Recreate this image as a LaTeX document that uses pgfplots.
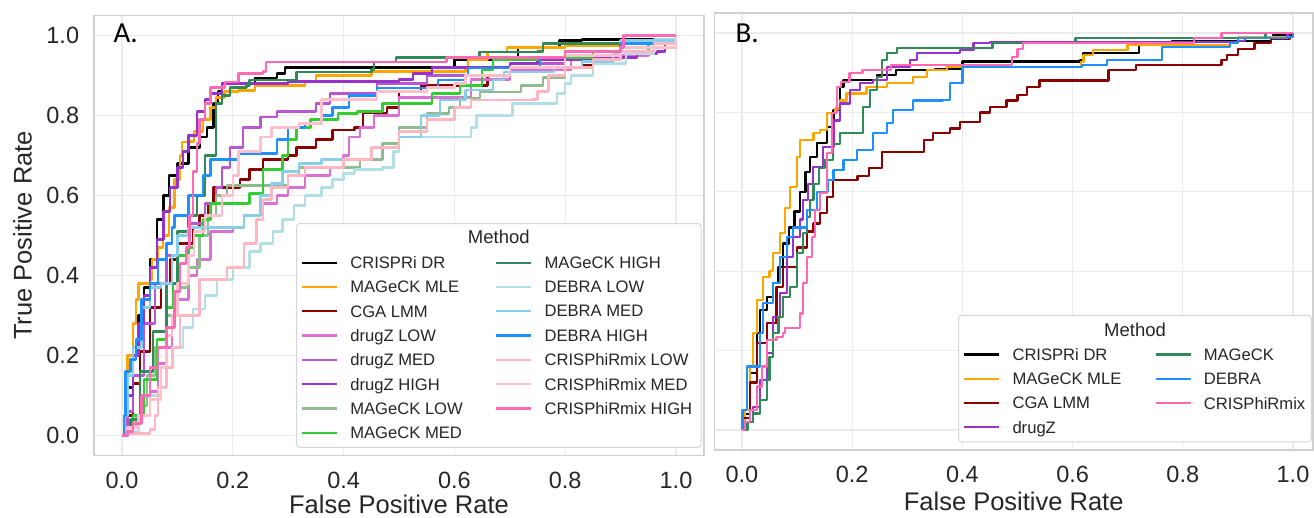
\documentclass[border=0pt]{standalone}
\usepackage{fontspec}
\setmainfont{Liberation Sans}
\newfontfamily\calib{Carlito}
\usepackage{pgfplots}
\pgfplotsset{compat=1.18}
\definecolor{tickc}{HTML}{262626}
\definecolor{gridc}{HTML}{EBEBEB}
\definecolor{framec}{HTML}{D0D0D0}
\definecolor{legc}{HTML}{D6D6D6}
\definecolor{cDR}{HTML}{000000}
\definecolor{cMLE}{HTML}{FFA500}
\definecolor{cCGA}{HTML}{8B0000}
\definecolor{cDZL}{HTML}{DA70D6}
\definecolor{cDZM}{HTML}{BA55D3}
\definecolor{cDZH}{HTML}{9932CC}
\definecolor{cMGL}{HTML}{8FBC8F}
\definecolor{cMGM}{HTML}{32CD32}
\definecolor{cMGH}{HTML}{2E8B57}
\definecolor{cDBL}{HTML}{B0E0E6}
\definecolor{cDBM}{HTML}{87CEEB}
\definecolor{cDBH}{HTML}{1E90FF}
\definecolor{cCXL}{HTML}{FFB6C1}
\definecolor{cCXM}{HTML}{FFC0CB}
\definecolor{cCXH}{HTML}{FF69B4}
\pgfplotsset{
  rocax/.style={
    scale only axis, anchor=south west,
    xmin=-0.05, ymin=-0.05, ymax=1.05,
    xtick={0,0.2,0.4,0.6,0.8,1}, ytick={0,0.2,0.4,0.6,0.8,1},
    grid=major, major grid style={draw=gridc, line width=1.3pt},
    axis line style={draw=framec, line width=1.8pt},
    major tick length=0pt, tick style={draw=none},
    /pgf/number format/assume math mode=true,
    tick label style={font=\fontsize{23.5}{28}\selectfont, text=tickc,
      /pgf/number format/fixed, /pgf/number format/fixed zerofill,
      /pgf/number format/precision=1},
    xticklabel style={anchor=north, inner sep=0pt, yshift=-16pt},
    yticklabel style={anchor=east, inner sep=0pt, xshift=-15pt},
    label style={font=\fontsize{25.5}{30}\selectfont, text=tickc},
    legend cell align=left, legend columns=2,
    legend image code/.code={\draw[##1, line width=2.2pt] (0pt,0pt) -- (35pt,0pt); \path (47pt,0pt);},
    every axis plot/.append style={const plot, line width=2.4pt, line join=round, no markers},
  },
  legsty/.style={
    draw=legc, line width=1pt, rounded corners=3pt, fill=white,
    inner xsep=4.5pt, inner ysep=2.5pt, column sep=0pt, row sep=0pt,
    font=\fontsize{16.6}{19}\selectfont, text=tickc,
    nodes={inner sep=0pt, minimum height=24.3pt, text depth=0pt, text=tickc},
    label={[anchor=center, yshift=-#1, font=\fontsize{18.5}{22}\selectfont, text=tickc, minimum height=0pt]north:Method},
  },
}
\begin{document}
\begin{tikzpicture}
\useasboundingbox (0,0) rectangle (1314pt,518pt);
% ---------------- Panel A ----------------
\begin{axis}[rocax, at={(94.3pt,62.5pt)}, width=609.4pt, height=440pt, xmax=1.05,
  xlabel={False Positive Rate}, ylabel={True Positive Rate},
  xlabel style={at={(axis description cs:0.5,-0.1318)}, anchor=base},
  ylabel style={at={(axis description cs:-0.1027,0.5)}, anchor=base},
  legend style={legsty=14pt, at={(axis description cs:0.331,0.528)}, anchor=north west}]
\addplot[cDR, forget plot] coordinates {(0,0)(0.005,0.05)(0.01,0.12)(0.02,0.22)(0.03,0.3)(0.04,0.37)(0.05,0.44)(0.063,0.54)(0.075,0.6)(0.085,0.65)(0.1,0.68)(0.12,0.72)(0.141,0.746)(0.153,0.77)(0.165,0.83)(0.173,0.86)(0.18,0.88)(0.237,0.88)(0.24,0.893)(0.276,0.893)(0.28,0.905)(0.294,0.92)(0.59,0.92)(0.6,0.94)(0.71,0.945)(0.715,0.968)(0.785,0.968)(0.79,0.987)(0.83,0.99)(1,1)};
\addplot[cMLE, forget plot] coordinates {(0,0)(0.005,0.1)(0.01,0.2)(0.02,0.28)(0.025,0.34)(0.03,0.38)(0.05,0.39)(0.054,0.44)(0.065,0.47)(0.074,0.5)(0.085,0.57)(0.095,0.64)(0.105,0.7)(0.108,0.733)(0.123,0.735)(0.13,0.76)(0.146,0.79)(0.16,0.82)(0.17,0.845)(0.185,0.86)(0.21,0.862)(0.24,0.875)(0.33,0.885)(0.35,0.9)(0.45,0.91)(0.62,0.918)(0.625,0.94)(0.66,0.958)(0.695,0.97)(0.8,0.975)(0.9,0.985)(0.98,0.99)(1,1)};
\addplot[cCGA, forget plot] coordinates {(0,0)(0.01,0.05)(0.02,0.13)(0.032,0.21)(0.05,0.32)(0.07,0.38)(0.087,0.44)(0.1,0.48)(0.128,0.52)(0.14,0.55)(0.155,0.58)(0.165,0.62)(0.19,0.62)(0.213,0.64)(0.23,0.665)(0.255,0.69)(0.3,0.7)(0.315,0.72)(0.35,0.74)(0.38,0.763)(0.42,0.77)(0.435,0.806)(0.478,0.82)(0.5,0.858)(0.54,0.875)(0.66,0.9)(0.7,0.915)(0.78,0.92)(0.83,0.925)(0.85,0.94)(0.9,0.96)(0.95,0.98)(1,1)};
\addplot[cDZL, forget plot] coordinates {(0,0)(0.01,0.02)(0.03,0.05)(0.05,0.11)(0.065,0.18)(0.08,0.22)(0.09,0.3)(0.1,0.34)(0.12,0.4)(0.135,0.44)(0.16,0.51)(0.2,0.52)(0.22,0.55)(0.25,0.58)(0.28,0.6)(0.3,0.62)(0.33,0.65)(0.375,0.67)(0.4,0.7)(0.41,0.746)(0.43,0.77)(0.455,0.8)(0.5,0.845)(0.59,0.845)(0.63,0.89)(0.7,0.913)(0.81,0.94)(0.9,0.95)(0.95,0.97)(1,1)};
\addplot[cDZM, forget plot] coordinates {(0,0)(0.01,0.06)(0.02,0.15)(0.04,0.28)(0.06,0.38)(0.08,0.45)(0.1,0.5)(0.12,0.53)(0.15,0.58)(0.17,0.62)(0.18,0.67)(0.195,0.72)(0.218,0.77)(0.25,0.796)(0.28,0.81)(0.35,0.83)(0.375,0.855)(0.46,0.88)(0.55,0.9)(0.7,0.93)(0.8,0.96)(0.9,0.97)(1,1)};
\addplot[cDZH, forget plot] coordinates {(0,0)(0.005,0.05)(0.01,0.1)(0.02,0.2)(0.03,0.28)(0.04,0.35)(0.05,0.42)(0.063,0.49)(0.075,0.56)(0.087,0.62)(0.1,0.67)(0.11,0.71)(0.12,0.75)(0.135,0.81)(0.15,0.84)(0.16,0.855)(0.18,0.88)(0.3,0.885)(0.5,0.89)(0.525,0.905)(0.56,0.92)(0.7,0.93)(0.75,0.94)(0.85,0.945)(0.93,0.955)(0.966,0.96)(0.98,0.98)(1,1)};
\addplot[cMGL, forget plot] coordinates {(0,0)(0.01,0.02)(0.025,0.05)(0.032,0.075)(0.045,0.15)(0.06,0.22)(0.08,0.3)(0.1,0.37)(0.12,0.42)(0.14,0.5)(0.155,0.55)(0.17,0.6)(0.19,0.625)(0.28,0.625)(0.3,0.65)(0.32,0.67)(0.4,0.67)(0.43,0.69)(0.47,0.73)(0.5,0.77)(0.55,0.805)(0.59,0.82)(0.61,0.843)(0.646,0.858)(0.72,0.875)(0.76,0.895)(0.8,0.918)(0.85,0.94)(0.9,0.96)(0.95,0.98)(1,1)};
\addplot[cMGM, forget plot] coordinates {(0,0)(0.01,0.02)(0.02,0.05)(0.04,0.14)(0.063,0.24)(0.08,0.32)(0.092,0.38)(0.1,0.45)(0.12,0.47)(0.13,0.5)(0.146,0.54)(0.16,0.58)(0.21,0.58)(0.23,0.605)(0.255,0.665)(0.29,0.7)(0.3,0.74)(0.315,0.77)(0.34,0.79)(0.39,0.805)(0.425,0.81)(0.47,0.83)(0.556,0.83)(0.56,0.855)(0.61,0.875)(0.65,0.913)(0.67,0.938)(0.75,0.945)(0.85,0.96)(0.95,0.98)(1,1)};
\addplot[cMGH, forget plot] coordinates {(0,0)(0.01,0.02)(0.015,0.04)(0.032,0.16)(0.056,0.26)(0.08,0.38)(0.1,0.51)(0.12,0.55)(0.135,0.6)(0.15,0.7)(0.17,0.83)(0.18,0.85)(0.195,0.87)(0.225,0.875)(0.23,0.888)(0.31,0.888)(0.315,0.908)(0.45,0.915)(0.455,0.933)(0.49,0.933)(0.495,0.945)(0.64,0.945)(0.645,0.958)(0.75,0.96)(0.76,0.98)(0.9,0.985)(1,1)};
\addplot[cDBL, forget plot] coordinates {(0,0)(0.01,0.01)(0.03,0.05)(0.05,0.1)(0.07,0.17)(0.09,0.22)(0.11,0.27)(0.128,0.316)(0.15,0.35)(0.171,0.39)(0.2,0.42)(0.23,0.46)(0.25,0.48)(0.273,0.51)(0.29,0.54)(0.31,0.575)(0.33,0.6)(0.36,0.62)(0.38,0.64)(0.4,0.655)(0.42,0.665)(0.47,0.67)(0.49,0.71)(0.5,0.746)(0.62,0.746)(0.63,0.77)(0.64,0.8)(0.705,0.83)(0.785,0.855)(0.8,0.88)(0.81,0.9)(0.85,0.93)(0.91,0.955)(0.96,0.99)(1,1)};
\addplot[cDBM, forget plot] coordinates {(0,0)(0.005,0.05)(0.01,0.15)(0.02,0.22)(0.035,0.32)(0.05,0.37)(0.07,0.38)(0.09,0.45)(0.1,0.5)(0.12,0.52)(0.2,0.52)(0.22,0.55)(0.25,0.6)(0.27,0.63)(0.29,0.66)(0.32,0.68)(0.36,0.69)(0.42,0.69)(0.45,0.72)(0.5,0.746)(0.54,0.8)(0.574,0.838)(0.62,0.863)(0.67,0.888)(0.69,0.908)(0.78,0.92)(0.83,0.935)(0.886,0.955)(0.9,0.987)(1,1)};
\addplot[cDBH, forget plot] coordinates {(0,0)(0.004,0.05)(0.006,0.16)(0.015,0.19)(0.025,0.24)(0.035,0.34)(0.05,0.38)(0.065,0.44)(0.08,0.48)(0.09,0.52)(0.095,0.55)(0.11,0.55)(0.12,0.6)(0.146,0.65)(0.16,0.69)(0.2,0.69)(0.21,0.705)(0.27,0.705)(0.28,0.74)(0.3,0.77)(0.33,0.78)(0.36,0.8)(0.38,0.82)(0.41,0.85)(0.46,0.868)(0.56,0.868)(0.57,0.888)(0.62,0.9)(0.625,0.918)(0.75,0.92)(0.755,0.945)(0.8,0.96)(0.9,0.98)(1,1)};
\addplot[cCXL, forget plot] coordinates {(0,0)(0.01,0.005)(0.05,0.015)(0.06,0.05)(0.065,0.12)(0.08,0.17)(0.092,0.22)(0.105,0.3)(0.14,0.39)(0.19,0.42)(0.22,0.48)(0.243,0.54)(0.255,0.59)(0.27,0.62)(0.3,0.65)(0.33,0.67)(0.4,0.69)(0.45,0.72)(0.5,0.76)(0.55,0.79)(0.6,0.82)(0.63,0.838)(0.74,0.84)(0.75,0.86)(0.77,0.9)(0.8,0.92)(0.85,0.94)(0.9,0.96)(0.96,0.98)(1,1)};
\addplot[cCXM, forget plot] coordinates {(0,0)(0.01,0.02)(0.03,0.05)(0.05,0.09)(0.07,0.17)(0.08,0.25)(0.09,0.3)(0.1,0.38)(0.12,0.45)(0.13,0.51)(0.15,0.55)(0.18,0.6)(0.2,0.65)(0.21,0.71)(0.25,0.746)(0.27,0.77)(0.32,0.78)(0.36,0.84)(0.46,0.86)(0.55,0.87)(0.6,0.88)(0.62,0.9)(0.7,0.92)(0.8,0.95)(0.9,0.97)(1,1)};
\addplot[cCXH, forget plot] coordinates {(0,0)(0.01,0.01)(0.02,0.03)(0.035,0.1)(0.05,0.17)(0.065,0.22)(0.08,0.27)(0.095,0.36)(0.105,0.43)(0.115,0.47)(0.122,0.55)(0.128,0.66)(0.135,0.73)(0.14,0.79)(0.15,0.83)(0.16,0.87)(0.186,0.883)(0.21,0.905)(0.254,0.91)(0.26,0.933)(0.58,0.933)(0.586,0.945)(0.785,0.945)(0.8,0.96)(0.9,0.97)(0.905,1.0)(1,1)};
% legend (row-major order, matplotlib column-wise layout)
\addlegendimage{empty legend}\addlegendentry{}
\addlegendimage{empty legend}\addlegendentry{}
\addlegendimage{cDR}\addlegendentry{\makebox[145pt][l]{CRISPRi DR}}
\addlegendimage{cMGH}\addlegendentry{\makebox[152pt][l]{MAGeCK HIGH}}
\addlegendimage{cMLE}\addlegendentry{\makebox[145pt][l]{MAGeCK MLE}}
\addlegendimage{cDBL}\addlegendentry{\makebox[152pt][l]{DEBRA LOW}}
\addlegendimage{cCGA}\addlegendentry{\makebox[145pt][l]{CGA LMM}}
\addlegendimage{cDBM}\addlegendentry{\makebox[152pt][l]{DEBRA MED}}
\addlegendimage{cDZL}\addlegendentry{\makebox[145pt][l]{drugZ LOW}}
\addlegendimage{cDBH}\addlegendentry{\makebox[152pt][l]{DEBRA HIGH}}
\addlegendimage{cDZM}\addlegendentry{\makebox[145pt][l]{drugZ MED}}
\addlegendimage{cCXL}\addlegendentry{\makebox[152pt][l]{CRISPhiRmix LOW}}
\addlegendimage{cDZH}\addlegendentry{\makebox[145pt][l]{drugZ HIGH}}
\addlegendimage{cCXM}\addlegendentry{\makebox[152pt][l]{CRISPhiRmix MED}}
\addlegendimage{cMGL}\addlegendentry{\makebox[145pt][l]{MAGeCK LOW}}
\addlegendimage{cCXH}\addlegendentry{\makebox[152pt][l]{CRISPhiRmix HIGH}}
\addlegendimage{cMGM}\addlegendentry{\makebox[145pt][l]{MAGeCK MED}}
\addlegendimage{empty legend}\addlegendentry{}
\end{axis}
% ---------------- Panel B ----------------
\begin{axis}[rocax, at={(714.4pt,68.1pt)}, width=598.6pt, height=436.7pt, xmax=1.0363,
  yticklabels={},
  xlabel={False Positive Rate},
  xlabel style={at={(axis description cs:0.5,-0.138)}, anchor=base},
  legend style={legsty=15pt, at={(axis description cs:0.998,0.309)}, anchor=north east}]
\addplot[cDR, forget plot] coordinates {(0,0)(0.005,0.04)(0.015,0.143)(0.027,0.244)(0.033,0.302)(0.045,0.335)(0.056,0.37)(0.066,0.41)(0.075,0.47)(0.085,0.51)(0.095,0.55)(0.105,0.6)(0.115,0.65)(0.123,0.688)(0.136,0.723)(0.154,0.763)(0.166,0.806)(0.178,0.864)(0.184,0.882)(0.238,0.882)(0.245,0.894)(0.274,0.894)(0.28,0.907)(0.35,0.91)(0.4,0.928)(0.613,0.932)(0.62,0.95)(0.717,0.95)(0.72,0.97)(0.78,0.98)(0.96,0.985)(0.964,0.995)(1,1)};
\addplot[cMLE, forget plot] coordinates {(0,0)(0.005,0.05)(0.015,0.16)(0.02,0.244)(0.027,0.327)(0.038,0.385)(0.05,0.4)(0.056,0.446)(0.069,0.496)(0.078,0.56)(0.087,0.612)(0.1,0.688)(0.105,0.73)(0.123,0.73)(0.13,0.748)(0.142,0.756)(0.154,0.798)(0.17,0.81)(0.178,0.83)(0.19,0.848)(0.226,0.864)(0.263,0.874)(0.31,0.89)(0.336,0.907)(0.372,0.915)(0.61,0.915)(0.615,0.927)(0.62,0.945)(0.637,0.957)(0.695,0.957)(0.7,0.97)(0.886,0.975)(0.9,0.99)(1,1)};
\addplot[cCGA, forget plot] coordinates {(0,0)(0.002,0.03)(0.015,0.12)(0.027,0.22)(0.045,0.27)(0.063,0.36)(0.075,0.41)(0.1,0.46)(0.118,0.5)(0.13,0.52)(0.142,0.547)(0.154,0.587)(0.165,0.63)(0.2,0.63)(0.21,0.64)(0.23,0.66)(0.254,0.7)(0.31,0.7)(0.33,0.73)(0.347,0.748)(0.378,0.76)(0.396,0.776)(0.432,0.8)(0.45,0.814)(0.48,0.83)(0.5,0.844)(0.517,0.864)(0.54,0.88)(0.659,0.88)(0.665,0.907)(0.71,0.907)(0.715,0.92)(0.858,0.92)(0.87,0.932)(0.88,0.945)(0.9,0.96)(0.93,0.975)(0.96,0.985)(0.995,1.0)(1,1)};
\addplot[cDZH, forget plot] coordinates {(0,0)(0.005,0.02)(0.02,0.058)(0.033,0.126)(0.045,0.194)(0.056,0.285)(0.069,0.345)(0.082,0.436)(0.093,0.486)(0.105,0.53)(0.111,0.58)(0.12,0.62)(0.129,0.663)(0.147,0.713)(0.166,0.78)(0.178,0.823)(0.196,0.856)(0.214,0.874)(0.238,0.882)(0.263,0.915)(0.305,0.932)(0.318,0.95)(0.396,0.957)(0.42,0.975)(0.45,0.978)(0.9,0.98)(0.913,0.987)(0.99,1.0)(1,1)};
\addplot[cMGH, forget plot] coordinates {(0,0)(0.01,0.02)(0.02,0.042)(0.033,0.075)(0.045,0.126)(0.05,0.184)(0.056,0.244)(0.066,0.285)(0.075,0.335)(0.087,0.36)(0.1,0.446)(0.111,0.496)(0.118,0.537)(0.123,0.58)(0.13,0.62)(0.14,0.66)(0.15,0.68)(0.165,0.72)(0.178,0.748)(0.214,0.748)(0.22,0.814)(0.232,0.856)(0.245,0.89)(0.254,0.932)(0.263,0.95)(0.281,0.962)(0.45,0.962)(0.455,0.975)(0.6,0.975)(0.605,0.987)(0.944,0.987)(0.95,1.0)(1,1)};
\addplot[cDBH, forget plot] coordinates {(0,0)(0.001,0.05)(0.009,0.16)(0.02,0.16)(0.033,0.244)(0.038,0.32)(0.056,0.37)(0.069,0.436)(0.082,0.486)(0.093,0.51)(0.118,0.554)(0.136,0.6)(0.155,0.63)(0.166,0.655)(0.184,0.68)(0.209,0.705)(0.238,0.748)(0.263,0.773)(0.274,0.806)(0.31,0.83)(0.365,0.832)(0.378,0.874)(0.4,0.915)(0.617,0.92)(0.662,0.932)(0.759,0.932)(0.762,0.965)(0.886,0.975)(0.9,0.987)(0.99,0.99)(1,1)};
\addplot[cCXH, forget plot] coordinates {(0,0)(0.005,0.02)(0.015,0.05)(0.027,0.11)(0.036,0.16)(0.045,0.227)(0.063,0.235)(0.075,0.245)(0.078,0.257)(0.1,0.257)(0.105,0.294)(0.111,0.37)(0.118,0.436)(0.127,0.486)(0.133,0.554)(0.142,0.597)(0.154,0.698)(0.163,0.798)(0.172,0.864)(0.18,0.877)(0.195,0.9)(0.219,0.907)(0.268,0.907)(0.27,0.92)(0.48,0.92)(0.49,0.94)(0.5,0.96)(0.51,0.975)(0.813,0.975)(0.82,0.987)(0.868,0.987)(0.87,1.0)(1,1)};
\addlegendimage{empty legend}\addlegendentry{}
\addlegendimage{empty legend}\addlegendentry{}
\addlegendimage{cDR}\addlegendentry{\makebox[142pt][l]{CRISPRi DR}}
\addlegendimage{cMGH}\addlegendentry{\makebox[103pt][l]{MAGeCK}}
\addlegendimage{cMLE}\addlegendentry{\makebox[142pt][l]{MAGeCK MLE}}
\addlegendimage{cDBH}\addlegendentry{\makebox[103pt][l]{DEBRA}}
\addlegendimage{cCGA}\addlegendentry{\makebox[142pt][l]{CGA LMM}}
\addlegendimage{cCXH}\addlegendentry{\makebox[103pt][l]{CRISPhiRmix}}
\addlegendimage{cDZH}\addlegendentry{\makebox[142pt][l]{drugZ}}
\addlegendimage{empty legend}\addlegendentry{}
\end{axis}
\node[anchor=base west, font=\calib\fontsize{29}{34}\selectfont] at (110pt,475pt) {A.};
\node[anchor=base west, font=\calib\fontsize{29}{34}\selectfont] at (732pt,475pt) {B.};
\end{tikzpicture}
\end{document}
